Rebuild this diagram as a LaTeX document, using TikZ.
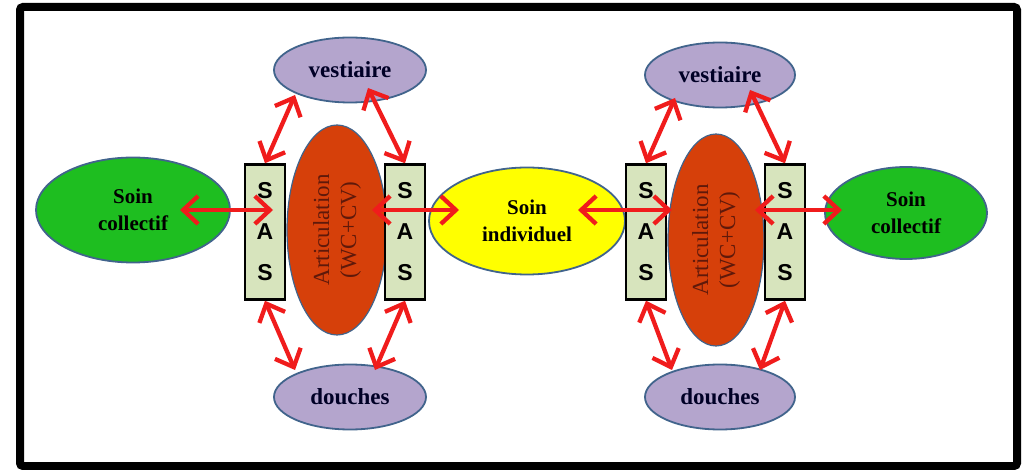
\documentclass[tikz,border=0pt]{standalone}
\usepackage{fontspec}
\setmainfont{Liberation Serif}
\newfontfamily\sasfont{Liberation Sans}
\usepackage{xcolor}
\usetikzlibrary{arrows.meta,positioning,shapes.geometric,calc}

\definecolor{soinvert}{RGB}{30,190,32}
\definecolor{soinjaune}{RGB}{255,255,0}
\definecolor{lavande}{RGB}{180,165,205}
\definecolor{brique}{RGB}{214,64,10}
\definecolor{sasfond}{RGB}{215,228,189}
\definecolor{bord}{RGB}{65,100,140}
\definecolor{fleche}{RGB}{240,28,28}
\definecolor{brun}{RGB}{95,25,10}

\begin{document}
\begin{tikzpicture}[x=1pt, y=-1pt,
    % ---------- styles ----------
    soin/.style={ellipse, draw=bord, line width=1.8pt, inner sep=0pt,
      align=center, font=\fontsize{21}{27}\selectfont\bfseries},
    piece/.style={ellipse, draw=bord, line width=1.8pt, fill=lavande,
      inner sep=0pt, minimum width=152pt, minimum height=65pt,
      font=\fontsize{23}{26}\selectfont\bfseries, text=black!85!blue},
    artic/.style={ellipse, draw=bord, line width=1.2pt, fill=brique,
      inner sep=0pt, rotate=90, align=center, text=brun,
      font=\fontsize{23}{27}\selectfont},
    sasbox/.style={draw=black, line width=2.5pt, fill=sasfond,
      minimum width=40pt, minimum height=135pt, inner sep=0pt,
      align=center, font=\sasfont\fontsize{23}{41}\selectfont\bfseries},
    dbl/.style={{Straight Barb[length=15pt,width=28pt]}-{Straight Barb[length=15pt,width=28pt]},
      line width=4.3pt, color=fleche}
]

\useasboundingbox (0,0) rectangle (1025,470);

% ====== Cadre ======
\draw[line width=8pt, rounded corners=3pt] (20,7) rectangle (1017,466);

% ====== Bloc gauche ======
\node[soin, fill=soinvert, minimum width=194pt, minimum height=105pt] (sc1) at (133,210) {Soin\\collectif};
\node[artic, minimum width=210pt, minimum height=100pt] (art1) at (337,230) {Articulation\\(WC+CV)};
\node[sasbox] (sas1) at (265,232) {S\\A\\S};
\node[sasbox] (sas2) at (405,232) {S\\A\\S};
\node[piece] (ves1) at (350,70) {vestiaire};
\node[piece] (dou1) at (350,397) {douches};

% ====== Centre ======
\node[soin, fill=soinjaune, minimum width=196pt, minimum height=107pt] (si) at (527,221) {Soin\\individuel};

% ====== Bloc droit ======
\node[artic, minimum width=212pt, minimum height=96pt] (art2) at (716,240) {Articulation\\(WC+CV)};
\node[sasbox] (sas3) at (646,232) {S\\A\\S};
\node[sasbox] (sas4) at (785,232) {S\\A\\S};
\node[piece, minimum width=150pt] (ves2) at (720,75) {vestiaire};
\node[piece, minimum width=150pt] (dou2) at (720,397) {douches};
\node[soin, fill=soinvert, minimum width=162pt, minimum height=92pt] (sc2) at (906,213) {Soin\\collectif};

% ====== Fleches horizontales ======
\draw[dbl] ($(sc1)+(47,0)$) -- ($(sas1)+(8,-22)$);
\draw[dbl] ($(sas2)+(-33,-22)$) -- ($(si)+(-68,-11)$);
\draw[dbl] ($(si)+(51,-11)$) -- ($(sas3)+(26,-22)$);
\draw[dbl] ($(sas4)+(-30,-22)$) -- ($(sc2)+(-64,-3)$);

% ====== Fleches vestiaires / douches ======
\draw[dbl] ($(ves1)+(-55,25)$) -- (sas1.north);
\draw[dbl] ($(ves1)+(18,18)$) -- (sas2.north);
\draw[dbl] (sas1.south) -- ($(dou1)+(-55,-27)$);
\draw[dbl] (sas2.south) -- ($(dou1)+(25,-27)$);
\draw[dbl] ($(ves2)+(-45,23)$) -- (sas3.north);
\draw[dbl] ($(ves2)+(30,15)$) -- (sas4.north);
\draw[dbl] (sas3.south) -- ($(dou2)+(-48,-27)$);
\draw[dbl] (sas4.south) -- ($(dou2)+(40,-27)$);

\end{tikzpicture}
\end{document}
